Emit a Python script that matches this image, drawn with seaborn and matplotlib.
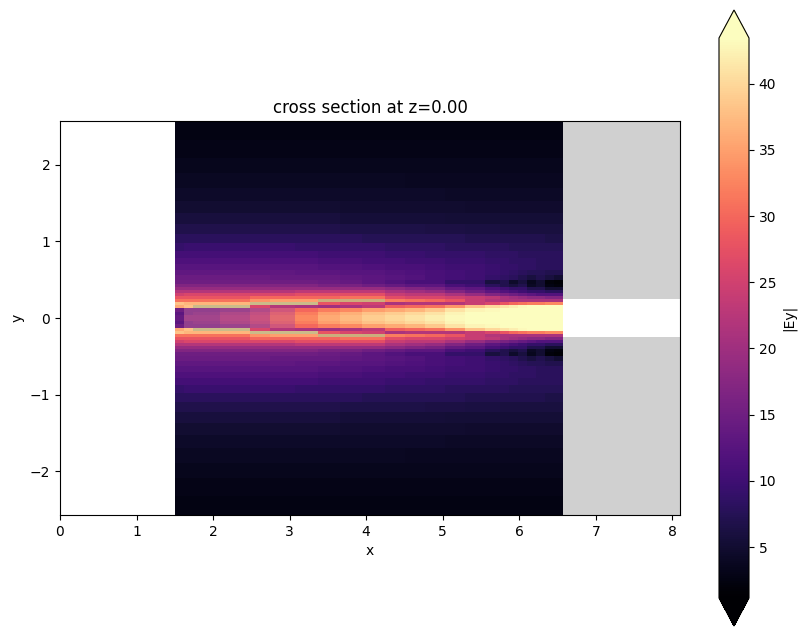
import numpy as np
import pandas as pd
import seaborn as sns
import matplotlib
matplotlib.use("Agg")
import matplotlib.pyplot as plt

x_edges = [1.50, 1.62, 1.74, 2.09, 2.48, 2.74, 3.07, 3.37, 3.66, 3.95, 4.25, 4.51,
           4.77, 5.03, 5.29, 5.55, 5.75, 5.87, 5.98, 6.10, 6.22, 6.34, 6.45, 6.57]
y_half_edges = [0, .04, .08, .13, .17, .21, .25, .29, .33, .37, .40, .44, .50, .56,
                .63, .70, .78, .87, .98, 1.10, 1.23, 1.37, 1.53, 1.70, 1.89, 2.09, 2.32, 2.57]

# |Ey| from the waveguide axis outward (upper half, mirrored below)
ey_half = [
 [14,20,20,22.5,25,29,33,36,37.5,39,40,41,42,43,44,44,44,44,44,44,44,44,44],
 [13,18,19,21.5,24,28,32,35,36.5,38,39,40,41,42.5,44,44,44,44,44,44,44,44,44],
 [15,18,18,19,22,26,30,32,33,35,36,37,38.5,41,42.5,43,44,44,44,44,44,44,44],
 [36,38,41,41,26,22,21,20,21,23,29,30,31,34,38,40,41,42,43,44,44,44,44],
 [38,37,37,37,41,41,41,28,26,25,21,22,22,22,24,26,28,30,31,32,32,33,33],
 [31,31,31,31,34,35,35,39,39,39,32,31,30,28,24,22,21,21,21,21,21,21,21],
 [28,28,28,28,30,30,30,30,31,31,27,26,26,25,24,23,21,20,19,18,18,17,17],
 [25,26,26,26,26,26,27,27,27,27,24,23,23,21,19,17,16,15,14,13,12,12,12],
 [22,22,22,22,22,22,23,23,23,23,21,20,19,17,15,13,12,11,10,9,9,8,8],
 [19,19,19,19,19,19,19,19,19,19,18,17,16,14,13,11,10,9,9,7,7,5,5],
 [17,17,17,17,17,17,17,16,16,15,14,13,13,11,10,8,7,6,7,4,5,2.5,2],
 [15,15,15,15,15,15,15,14.5,14,13,12,11,11,9,9,6,7,4.5,6,3.5,5,2,1.5],
 [14.5,14.5,14.5,14.5,14.5,14,14,14,13.5,13,12.5,12,11,10.5,10,9,8.5,8,7,6,7,6,5],
 [13.5,13.5,13.5,13.5,13.5,13.5,13,13,12.5,12.5,12,11.5,11,10.5,10,9.5,9,8.5,8,7.5,7.5,7,7],
 [12.5,12.5,12.5,12.5,12.5,12.5,12.5,12,12,11.5,11,11,10.5,10,10,9.5,9,9,8.5,8.5,8,8,8],
 [11.5,11.5,11.5,11.5,11.5,11.5,11.5,11,11,10.5,10.5,10,10,9.5,9.5,9,9,8.5,8.5,8.5,8,8,8],
 [10.5,10.5,10.5,10.5,10.5,10.5,10.5,10,10,10,9.5,9.5,9,9,9,8.5,8.5,8.5,8,8,8,8,8],
 [9,9.5,9.5,9.5,9.5,9.5,9,9,9,9,8.5,8.5,8.5,8,8,8,8,7.5,7.5,7.5,7.5,7.5,7.5],
 [8,8,8,8,8,8,8,8,8,7.5,7.5,7.5,7.5,7.5,7,7,7,7,7,7,7,6.5,6.5],
 [6.8,6.8,6.8,6.8,6.8,6.8,6.8,6.8,6.6,6.6,6.5,6.5,6.3,6.3,6.2,6.2,6,6,6,6,6,6,6],
 [5.8,5.8,5.8,5.8,5.8,5.8,5.8,5.8,5.6,5.6,5.6,5.5,5.5,5.4,5.4,5.4,5.3,5.3,5.3,5.3,5.3,5.3,5.3],
 [5,5,5,5,5,5,5,5,4.9,4.9,4.9,4.8,4.8,4.8,4.7,4.7,4.7,4.7,4.7,4.7,4.7,4.7,4.7],
 [4.4,4.4,4.4,4.4,4.4,4.4,4.4,4.4,4.3,4.3,4.3,4.3,4.3,4.2,4.2,4.2,4.2,4.2,4.2,4.2,4.2,4.2,4.2],
 [3.8,3.8,3.8,3.8,3.8,3.8,3.8,3.8,3.8,3.8,3.8,3.7,3.7,3.7,3.7,3.7,3.7,3.7,3.7,3.7,3.7,3.7,3.7],
 [3.3,3.3,3.3,3.3,3.3,3.3,3.3,3.3,3.3,3.3,3.3,3.3,3.3,3.3,3.3,3.3,3.3,3.3,3.3,3.3,3.3,3.3,3.3],
 [2.9,2.9,2.9,2.9,2.9,2.9,2.9,2.9,2.9,2.9,2.9,2.9,2.9,2.9,2.9,2.9,2.9,2.9,2.9,2.9,2.9,2.9,2.9],
 [2.5,2.5,2.5,2.5,2.5,2.5,2.5,2.5,2.5,2.5,2.5,2.5,2.5,2.5,2.5,2.5,2.5,2.5,2.5,2.5,2.5,2.5,2.5],
]
# stepped taper sidewall that dulls the brightest cells
taper_x = [1.74, 2.09, 2.48, 2.74, 3.07, 3.37, 3.66, 3.95, 4.25]
taper_inner = [.13, .13, .17, .17, .17, .21, .21, .21, .21]
taper_outer = [.17, .17, .21, .21, .21, .25, .25, .25, .25]
core_wash_x = [1.62, 3.07]
core_wash_half = 0.13

x_limits = (0, 8.1)
y_limits = (-2.57, 2.57)
x_ticks = [0, 1, 2, 3, 4, 5, 6, 7, 8]
y_ticks = [-2, -1, 0, 1, 2]
colour_limits = (1.15, 43.45)
colour_ticks = [5, 10, 15, 20, 25, 30, 35, 40]
structure_start = 6.57
core_half_width = 0.25

half = np.array(ey_half, dtype=float)
ey = np.vstack([half[::-1], half])
y_half = np.array(y_half_edges)
y_edges = np.concatenate([-y_half[::-1], y_half[1:]])
table = pd.DataFrame(ey)

W, H = 806, 636
fig = plt.figure(figsize=(W / 100, H / 100), dpi=100)
ax = fig.add_axes([60 / W, 1 - 515 / H, 620 / W, 394 / H])
cax = fig.add_axes([719 / W, 1 - 626 / H, 30 / W, 616 / H])

sns.heatmap(table, ax=ax, cbar_ax=cax, cmap=sns.color_palette("magma", as_cmap=True),
            vmin=colour_limits[0], vmax=colour_limits[1], xticklabels=False, yticklabels=False,
            cbar_kws={"extend": "both", "ticks": colour_ticks, "label": "|Ey|"})

mesh = ax.collections[0]
mesh._coordinates = np.stack(np.meshgrid(x_edges, y_edges), axis=-1)
mesh.set_array(np.ma.ravel(np.ma.masked_invalid(ey)))

ax.set_xlim(*x_limits)
ax.set_ylim(*y_limits)
ax.set_xticks(x_ticks)
ax.set_yticks(y_ticks)
ax.set_xticklabels([str(v) for v in x_ticks])
ax.set_yticklabels([str(v).replace("-", "\u2212") for v in y_ticks])
ax.tick_params(axis="y", labelrotation=0)
ax.set_xlabel("x")
ax.set_ylabel("y")
ax.set_title("cross section at z=0.00")
for spine in ax.spines.values():
    spine.set_visible(True)
    spine.set_linewidth(0.8)
    spine.set_zorder(5)

for sign in (1, -1):
    ax.fill_between(taper_x, sign * np.array(taper_inner), sign * np.array(taper_outer),
                    step="post", color="#808060", alpha=0.4, linewidth=0, zorder=2)
ax.fill_between(core_wash_x, -core_wash_half, core_wash_half,
                color="#b0a0c0", alpha=0.2, linewidth=0, zorder=2)

grey = "#d0d0d0"
ax.fill_between([structure_start, x_limits[1]], core_half_width, y_limits[1],
                color=grey, linewidth=0, zorder=3)
ax.fill_between([structure_start, x_limits[1]], y_limits[0], -core_half_width,
                color=grey, linewidth=0, zorder=3)

cb = mesh.colorbar
cb.outline.set_linewidth(0.8)
cb.outline.set_visible(True)
cb.outline.set_edgecolor("black")
cax.tick_params(length=3.5, width=0.8)

fig.savefig("out.png", dpi=100)
